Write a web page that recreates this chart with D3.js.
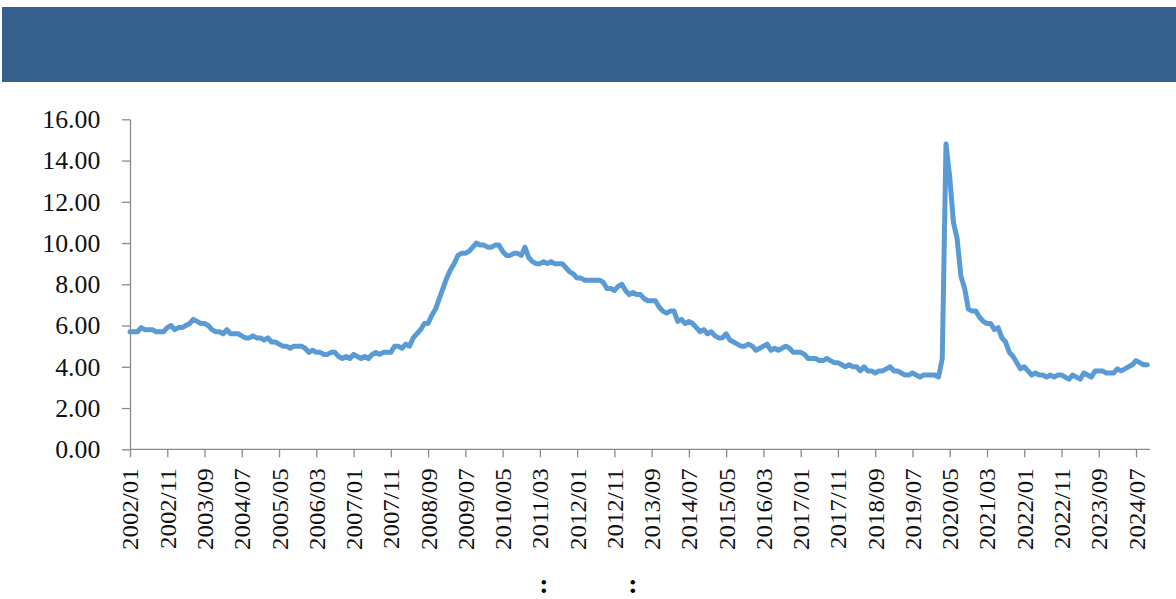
<!DOCTYPE html>
<html>
<head>
<meta charset="utf-8">
<script src="https://cdn.jsdelivr.net/npm/d3@7"></script>
<style>
  body { margin: 0; background: #fff; }
  svg { display: block; }
</style>
</head>
<body>
<div id="canva"></div>
<script>
// monthly values, 2002/01 .. 2024/10
const startYear = 2002;
const rate = [
  5.7, 5.7, 5.7, 5.9, 5.8, 5.8, 5.8, 5.7, 5.7, 5.7, 5.9, 6.0,
  5.8, 5.9, 5.9, 6.0, 6.1, 6.3, 6.2, 6.1, 6.1, 6.0, 5.8, 5.7,
  5.7, 5.6, 5.8, 5.6, 5.6, 5.6, 5.5, 5.4, 5.4, 5.5, 5.4, 5.4,
  5.3, 5.4, 5.2, 5.2, 5.1, 5.0, 5.0, 4.9, 5.0, 5.0, 5.0, 4.9,
  4.7, 4.8, 4.7, 4.7, 4.6, 4.6, 4.7, 4.7, 4.5, 4.4, 4.5, 4.4,
  4.6, 4.5, 4.4, 4.5, 4.4, 4.6, 4.7, 4.6, 4.7, 4.7, 4.7, 5.0,
  5.0, 4.9, 5.1, 5.0, 5.4, 5.6, 5.8, 6.1, 6.1, 6.5, 6.8, 7.3,
  7.8, 8.3, 8.7, 9.0, 9.4, 9.5, 9.5, 9.6, 9.8, 10.0, 9.9, 9.9,
  9.8, 9.8, 9.9, 9.9, 9.6, 9.4, 9.4, 9.5, 9.5, 9.4, 9.8, 9.3,
  9.1, 9.0, 9.0, 9.1, 9.0, 9.1, 9.0, 9.0, 9.0, 8.8, 8.6, 8.5,
  8.3, 8.3, 8.2, 8.2, 8.2, 8.2, 8.2, 8.1, 7.8, 7.8, 7.7, 7.9,
  8.0, 7.7, 7.5, 7.6, 7.5, 7.5, 7.3, 7.2, 7.2, 7.2, 6.9, 6.7,
  6.6, 6.7, 6.7, 6.2, 6.3, 6.1, 6.2, 6.1, 5.9, 5.7, 5.8, 5.6,
  5.7, 5.5, 5.4, 5.4, 5.6, 5.3, 5.2, 5.1, 5.0, 5.0, 5.1, 5.0,
  4.8, 4.9, 5.0, 5.1, 4.8, 4.9, 4.8, 4.9, 5.0, 4.9, 4.7, 4.7,
  4.7, 4.6, 4.4, 4.4, 4.4, 4.3, 4.3, 4.4, 4.3, 4.2, 4.2, 4.1,
  4.0, 4.1, 4.0, 4.0, 3.8, 4.0, 3.8, 3.8, 3.7, 3.8, 3.8, 3.9,
  4.0, 3.8, 3.8, 3.7, 3.6, 3.6, 3.7, 3.6, 3.5, 3.6, 3.6, 3.6,
  3.6, 3.5, 4.4, 14.8, 13.2, 11.0, 10.2, 8.4, 7.8, 6.8, 6.7, 6.7,
  6.4, 6.2, 6.1, 6.1, 5.8, 5.9, 5.4, 5.2, 4.7, 4.5, 4.2, 3.9,
  4.0, 3.8, 3.6, 3.7, 3.6, 3.6, 3.5, 3.6, 3.5, 3.6, 3.6, 3.5,
  3.4, 3.6, 3.5, 3.4, 3.7, 3.6, 3.5, 3.8, 3.8, 3.8, 3.7, 3.7,
  3.7, 3.9, 3.8, 3.9, 4.0, 4.1, 4.3, 4.2, 4.1, 4.1
];

const tickLabels = [
  '2002/01', '2002/11', '2003/09', '2004/07', '2005/05', '2006/03',
  '2007/01', '2007/11', '2008/09', '2009/07', '2010/05', '2011/03',
  '2012/01', '2012/11', '2013/09', '2014/07', '2015/05', '2016/03',
  '2017/01', '2017/11', '2018/09', '2019/07', '2020/05', '2021/03',
  '2022/01', '2022/11', '2023/09', '2024/07'
];

const yTicks = [0, 2, 4, 6, 8, 10, 12, 14, 16];

// category labels, one per month
const months = rate.map(function(d, i) {
  let y = startYear + Math.floor(i / 12);
  let m = (i % 12) + 1;
  return y + '/' + (m < 10 ? '0' + m : m);
});

const width = 1176;
const height = 599;

const svg = d3.select('#canva')
              .append('svg')
              .attr('width', width)
              .attr('height', height);

// header band
svg.append('rect')
   .attr('x', 2)
   .attr('y', 7)
   .attr('width', width - 2)
   .attr('height', 75)
   .attr('fill', '#36618f');

const xScale = d3.scalePoint()
                 .domain(months)
                 .range([130, 1147.2]);

const yScale = d3.scaleLinear()
                 .domain([0, 16])
                 .range([449.3, 119.3]);

const serif = '"Liberation Serif", "Times New Roman", serif';

// y axis
const yAxis = d3.axisLeft(yScale)
                .tickValues(yTicks)
                .tickSize(8)
                .tickSizeOuter(0)
                .tickFormat(d3.format('.2f'));

const yG = svg.append('g')
              .attr('transform', 'translate(130, 0)')
              .call(yAxis);

yG.select('.domain').attr('stroke', '#8a8a8a').attr('stroke-width', 1.3);
yG.selectAll('.tick line').attr('stroke', '#8a8a8a').attr('stroke-width', 1.3);
yG.selectAll('.tick text')
  .attr('x', -29.7)
  .attr('y', 0)
  .attr('dy', '0.34em')
  .attr('transform', 'scale(1, 0.96)')
  .attr('fill', '#111')
  .style('font-family', serif)
  .style('font-size', '25.8px');

// x axis
const xAxis = d3.axisBottom(xScale)
                .tickValues(tickLabels)
                .tickSize(8)
                .tickSizeOuter(0);

const xG = svg.append('g')
              .attr('transform', 'translate(0, 449.3)')
              .call(xAxis);

xG.select('.domain')
  .attr('d', 'M130,0H1150')
  .attr('stroke', '#8a8a8a')
  .attr('stroke-width', 1.3);
xG.selectAll('.tick line').attr('stroke', '#8a8a8a').attr('stroke-width', 1.3);
xG.selectAll('.tick text')
  .attr('x', 0)
  .attr('y', 0)
  .attr('dy', '0.34em')
  .attr('text-anchor', 'end')
  .attr('transform', 'translate(0, 19) rotate(-90) scale(1.06, 1)')
  .attr('fill', '#111')
  .style('font-family', serif)
  .style('font-size', '23.5px');

// line
const line = d3.line()
               .x(function(d, i) { return xScale(months[i]); })
               .y(function(d) { return yScale(d); });

svg.append('path')
   .datum(rate)
   .attr('d', line)
   .attr('fill', 'none')
   .attr('stroke', '#5b9bd5')
   .attr('stroke-width', 5)
   .attr('stroke-linejoin', 'round')
   .attr('stroke-linecap', 'round');

// what is left of the source note under the chart
const noteMarks = [{ x: 544, text: ':' }, { x: 633, text: ':' }];

svg.selectAll('.note')
   .data(noteMarks)
   .enter()
   .append('text')
   .attr('class', 'note')
   .attr('x', function(d) { return d.x; })
   .attr('y', 592.5)
   .attr('text-anchor', 'middle')
   .attr('fill', '#000')
   .style('font-family', serif)
   .style('font-weight', 'bold')
   .style('font-size', '28px')
   .text(function(d) { return d.text; });
</script>
</body>
</html>
